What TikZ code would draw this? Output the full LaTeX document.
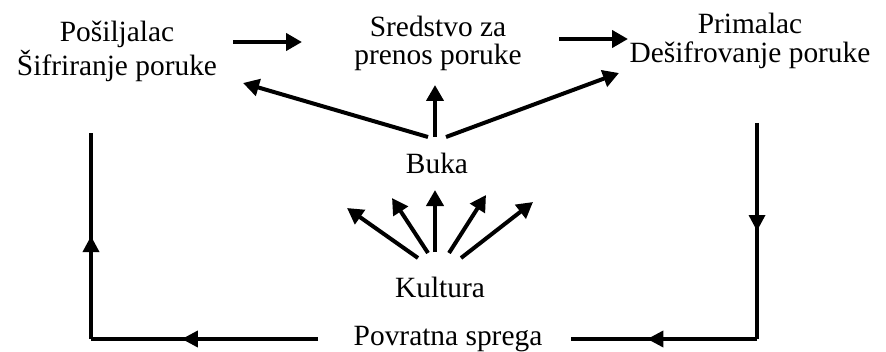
\documentclass[tikz,border=0pt]{standalone}
\usepackage{fontspec}
\setmainfont{Liberation Serif}
\usetikzlibrary{arrows.meta,decorations.markings}
\begin{document}
\begin{tikzpicture}[x=0.5pt,y=-0.5pt,
  lbl/.style={inner sep=0pt,font=\fontsize{14.7pt}{13.8pt}\selectfont,align=center},
  arr/.style={line width=2pt,-{Triangle[length=8pt,width=8.5pt]}},
  fbline/.style={line width=1.7pt},
  midarrow/.style={postaction={decorate},decoration={markings,
     mark=at position #1 with {\arrow{Triangle[length=8pt,width=8pt]}}}}
]
\useasboundingbox (0,0) rectangle (886,352);
% nodes
\node[lbl,anchor=north] (snd) at (117,21) {Pošiljalac\\Šifriranje poruke};
\node[lbl,anchor=north] (ch) at (438,16) {Sredstvo za\\prenos poruke};
\node[lbl,anchor=north,font=\fontsize{14.7pt}{14.5pt}\selectfont] (rec) at (750,13) {Primalac\\Dešifrovanje poruke};
\node[lbl,anchor=base] (buka) at (437,173) {Buka};
\node[lbl,anchor=base] (kult) at (440,297) {Kultura};
\node[lbl,anchor=base] (fb) at (448,345) {Povratna sprega};
% connector end points
\coordinate (s1) at (233,42);  \coordinate (t1) at (302,42);
\coordinate (s2) at (559,39);  \coordinate (t2) at (628,39);
\coordinate (b1) at (428,137); \coordinate (bt1) at (243,83);
\coordinate (b2) at (435,137); \coordinate (bt2) at (435,85);
\coordinate (b3) at (446,137); \coordinate (bt3) at (619,73);
\coordinate (k1) at (418,258); \coordinate (kt1) at (347,208);
\coordinate (k2) at (428,253); \coordinate (kt2) at (392,198);
\coordinate (k3) at (435,252); \coordinate (kt3) at (435,190);
\coordinate (k4) at (449,253); \coordinate (kt4) at (486,195);
\coordinate (k5) at (461,258); \coordinate (kt5) at (533,202);
\coordinate (rtop) at (757,123); \coordinate (rcorner) at (757,339); \coordinate (rend) at (571,339);
\coordinate (lstart) at (318,339); \coordinate (lcorner) at (91,339); \coordinate (ltop) at (91,133);
% top flow
\draw[arr] (s1) -- (t1);
\draw[arr] (s2) -- (t2);
% noise
\draw[arr] (b1) -- (bt1);
\draw[arr] (b2) -- (bt2);
\draw[arr] (b3) -- (bt3);
% culture
\draw[arr] (k1) -- (kt1);
\draw[arr] (k2) -- (kt2);
\draw[arr] (k3) -- (kt3);
\draw[arr] (k4) -- (kt4);
\draw[arr] (k5) -- (kt5);
% feedback
\draw[fbline,midarrow=0.5] (rtop) -- (rcorner);
\draw[fbline,midarrow=0.59] (rcorner) -- (rend);
\draw[fbline,midarrow=0.6] (lstart) -- (lcorner);
\draw[fbline,midarrow=0.5] (lcorner) -- (ltop);
\end{tikzpicture}
\end{document}
